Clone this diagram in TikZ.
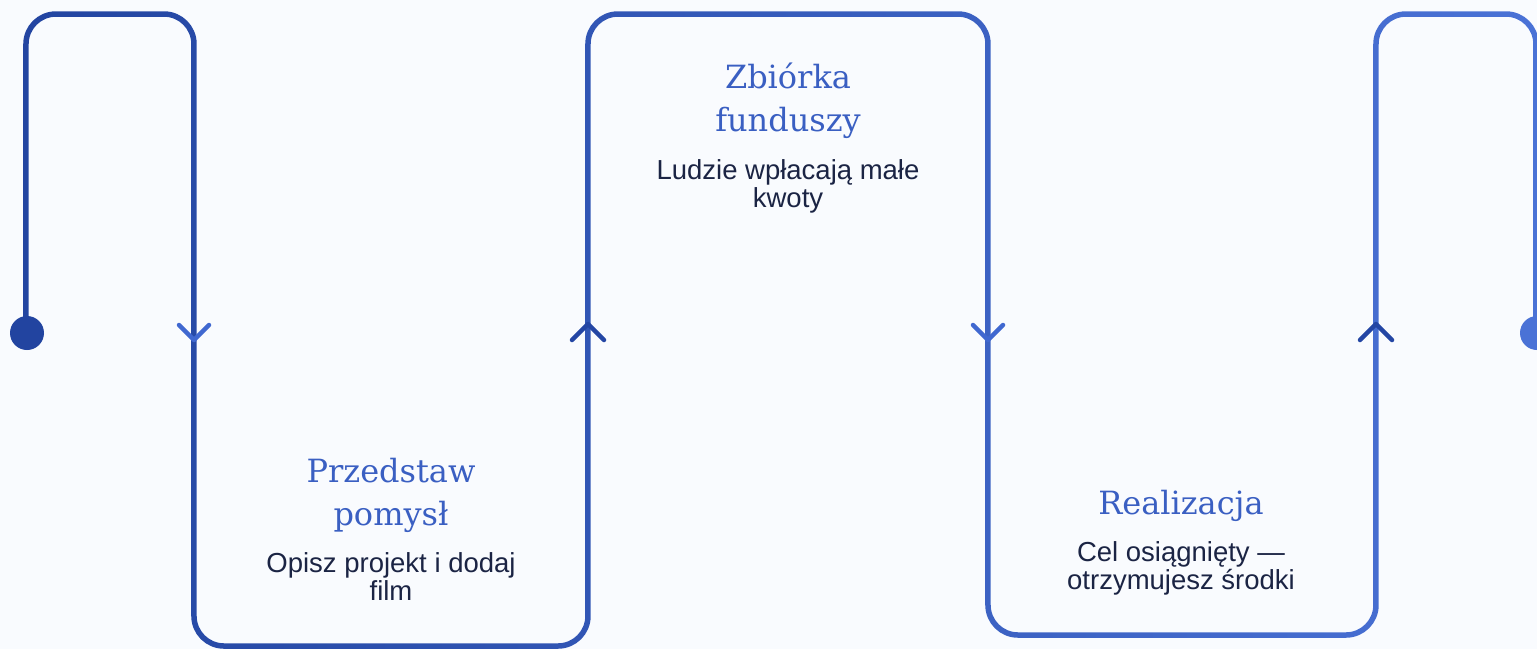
\documentclass[tikz,border=0pt]{standalone}
\usepackage{fontspec}
\setmainfont{Liberation Sans}
\newfontfamily\slabfont{DejaVu Serif}
\usepackage{xcolor}
\usetikzlibrary{positioning,fadings}

\definecolor{pagebg}{HTML}{F9FBFE}
\definecolor{lineleft}{HTML}{2244A0}
\definecolor{lineright}{HTML}{4A72D6}
\definecolor{chevup}{HTML}{2446A4}
\definecolor{chevdown}{HTML}{4068D0}
\definecolor{titleblue}{HTML}{3A5FC2}
\definecolor{textnavy}{HTML}{1B2444}

% route of the serpentine line (pixel grid, y downwards)
\newcommand{\snakeroute}{(26,333) -- (26,14) -- (194,14) -- (194,646)
  -- (588,646) -- (588,14) -- (988,14) -- (988,635) -- (1376,635)
  -- (1376,14) -- (1536,14) -- (1536,333)}

\begin{tikzfadingfrompicture}[name=snakefade, x=1pt, y=-1pt]
  \useasboundingbox (-1537,-649) rectangle (1537,649);
  \draw[white, line width=5.5pt, rounded corners=30pt] \snakeroute;
\end{tikzfadingfrompicture}

\begin{document}
\begin{tikzpicture}[x=1pt, y=-1pt,
  steptitle/.style={font=\slabfont\fontsize{32}{43}\selectfont,
    text=titleblue, align=center, inner sep=0pt, anchor=north},
  stepnote/.style={font=\fontsize{27.5}{28}\selectfont, text=textnavy,
    align=center, inner sep=0pt},
  chevron/.style={line width=4.5pt, line cap=round, line join=round},
  enddot/.style={circle, inner sep=0pt, minimum size=34pt},
  node distance=20pt
]
\useasboundingbox[fill=pagebg] (0,0) rectangle (1537,649);

% the line, shaded from left to right
\shade[left color=lineleft, right color=lineright,
  path fading=snakefade, fit fading=false] (0,0) rectangle (1537,649);

\node[enddot, fill=lineleft] (start) at (27,333) {};
\node[enddot, fill=lineright] (finish) at (1537,333) {};

% direction marks
\foreach \x/\n in {194/down1, 988/down2}{
  \coordinate (\n) at (\x,333);
  \draw[chevron, chevdown] (\n) ++(-15,-8) -- ++(15,15) -- ++(15,-15);
}
\foreach \x/\n in {588/up1, 1376/up2}{
  \coordinate (\n) at (\x,333);
  \draw[chevron, chevup] (\n) ++(-16,7) -- ++(16,-16) -- ++(16,16);
}

% steps
\node[steptitle] (pitch) at (391,458) {Przedstaw\\pomysł};
\node[stepnote, below=of pitch] (pitchnote) {Opisz projekt i dodaj\\film};

\node[steptitle] (raise) at (788,63) {Zbiórka\\funduszy};
\node[stepnote, below=of raise] (raisenote) {Ludzie wpłacają małe\\kwoty};

\node[steptitle] (done) at (1181,490) {Realizacja};
\node[stepnote, below=of done] (donenote) {Cel osiągnięty —\\otrzymujesz środki};

\end{tikzpicture}
\end{document}
